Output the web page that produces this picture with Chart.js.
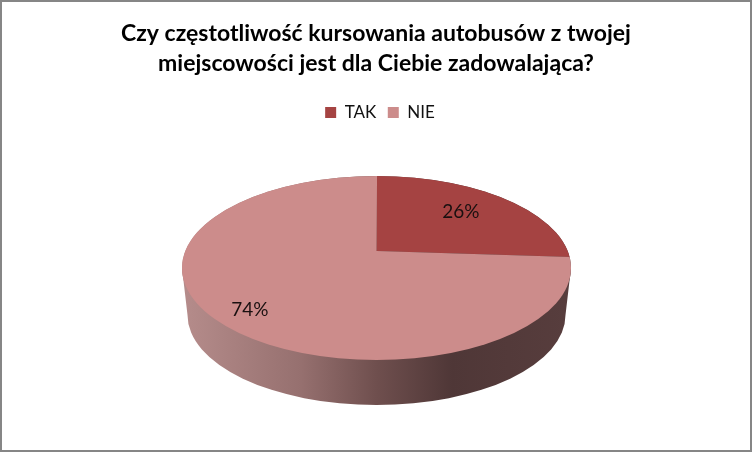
<!DOCTYPE html>
<html>
<head>
<meta charset="utf-8">
<script src="https://cdn.jsdelivr.net/npm/chart.js@4"></script>
<style>
  html, body { margin: 0; padding: 0; background: #fff; }
  canvas { display: block; outline: 2px solid #868686; outline-offset: -2px; }
</style>
</head>
<body>
<canvas id="myChart" width="752" height="452"></canvas>
<script>
const titleLines = ["Czy częstotliwość kursowania autobusów z twojej", "miejscowości jest dla Ciebie zadowalająca?"];
const categories = ["TAK", "NIE"];
const shares = [26, 74];
const sliceColors = ["#A54342", "#CC8C8B"];

// the pie is squashed to look like the old office 3D pie
const squash = 92 / 194.5;
const apex = { x: 376.5, y: 251 };
const rim = { x: 376.5, y: 268, rx: 194.5, ry: 92 };
const foot = { x: 376.5, y: 315, rx: 189, ry: 90 };
const labelDistance = [118, 177];

const pie3d = {
  id: "pie3d",
  afterLayout(chart) {
    // legend sits a little right of centre in the original
    chart.legend.left += 4;
    chart.legend.right += 4;
  },
  beforeDatasetsDraw(chart) {
    const ctx = chart.ctx;
    const g = ctx.createLinearGradient(foot.x - foot.rx, 0, foot.x + foot.rx, 0);
    g.addColorStop(0, "#B48B8A");
    g.addColorStop(0.3, "#96706F");
    g.addColorStop(0.5, "#6F4F4E");
    g.addColorStop(0.7, "#4F3737");
    g.addColorStop(1, "#573D3D");
    ctx.save();
    ctx.fillStyle = g;
    ctx.beginPath();
    ctx.ellipse(rim.x, rim.y, rim.rx, rim.ry, 0, 0, Math.PI * 2);
    ctx.fill();
    ctx.beginPath();
    ctx.moveTo(rim.x - rim.rx, rim.y);
    ctx.lineTo(foot.x - foot.rx, foot.y);
    ctx.ellipse(foot.x, foot.y, foot.rx, foot.ry, 0, Math.PI, 0, true);
    ctx.lineTo(rim.x + rim.rx, rim.y);
    ctx.closePath();
    ctx.fill();
    ctx.restore();
  },
  beforeDatasetDraw(chart) {
    const ctx = chart.ctx;
    const arc = chart.getDatasetMeta(0).data[0];
    const k = 240 / arc.outerRadius;
    ctx.save();
    ctx.beginPath();
    ctx.ellipse(rim.x, rim.y, rim.rx, rim.ry, 0, 0, Math.PI * 2);
    ctx.clip();
    ctx.translate(apex.x, apex.y);
    ctx.scale(k, k * squash);
    ctx.translate(-arc.x, -arc.y);
  },
  afterDatasetDraw(chart) {
    chart.ctx.restore();
  },
  afterDraw(chart) {
    const ctx = chart.ctx;
    const total = shares.reduce((a, b) => a + b, 0);
    ctx.save();
    ctx.font = "19px 'Lato'";
    ctx.fillStyle = "#1a1010";
    ctx.textAlign = "center";
    ctx.textBaseline = "middle";
    chart.getDatasetMeta(0).data.forEach((arc, i) => {
      const mid = (arc.startAngle + arc.endAngle) / 2 - 0.023;
      const x = apex.x + labelDistance[i] * Math.cos(mid);
      const y = apex.y + labelDistance[i] * Math.sin(mid) * squash;
      ctx.fillText(Math.round(shares[i] / total * 100) + "%", x, y);
    });
    ctx.restore();
  }
};

new Chart(document.getElementById("myChart").getContext("2d"), {
  type: "pie",
  data: {
    labels: categories,
    datasets: [{ data: shares, backgroundColor: sliceColors, borderWidth: 0, rotation: 0.2 }]
  },
  options: {
    responsive: false,
    animation: false,
    layout: { padding: { top: 8 } },
    plugins: {
      title: {
        display: true,
        text: titleLines,
        color: "#000",
        font: { family: "Lato", size: 23, weight: "bold", lineHeight: 1.28 },
        padding: { top: 11, bottom: 14.5 }
      },
      legend: {
        position: "top",
        labels: {
          color: "#111",
          boxWidth: 11,
          boxHeight: 11,
          padding: 11.5,
          font: { family: "Lato", size: 17 }
        }
      },
      tooltip: { enabled: false }
    },
    events: []
  },
  plugins: [pie3d]
});
</script>
</body>
</html>
